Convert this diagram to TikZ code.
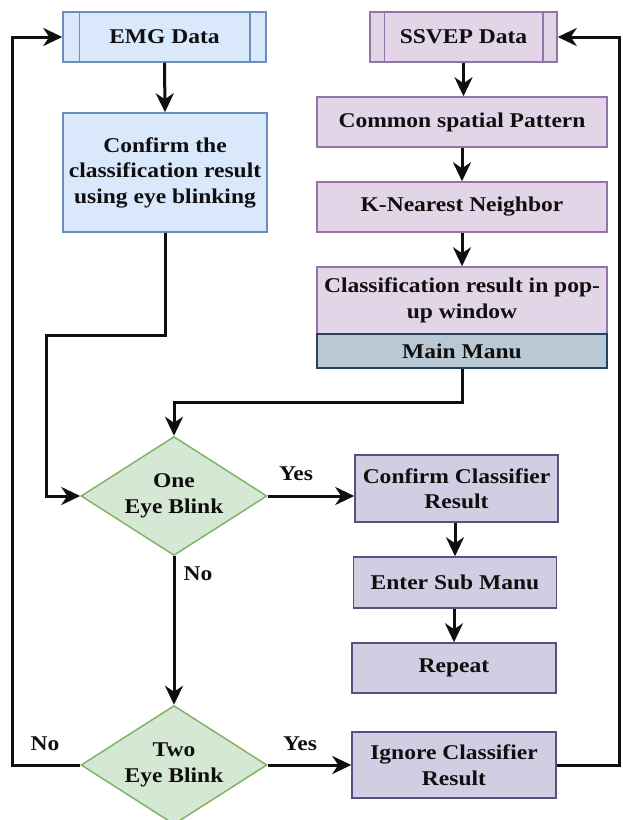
\documentclass[tikz,border=0pt]{standalone}
\usepackage{fontspec}
\setmainfont{Liberation Serif}[FakeStretch=1.12]
\usepackage{tikz}
\usetikzlibrary{arrows.meta,shapes.geometric}
\definecolor{emgfill}{RGB}{218,232,252}
\definecolor{emgdraw}{RGB}{108,142,191}
\definecolor{ssvfill}{RGB}{225,213,231}
\definecolor{ssvdraw}{RGB}{150,115,166}
\definecolor{menufill}{RGB}{186,200,211}
\definecolor{menudraw}{RGB}{35,68,93}
\definecolor{actfill}{RGB}{208,206,226}
\definecolor{actdraw}{RGB}{86,81,126}
\definecolor{decfill}{RGB}{213,232,212}
\definecolor{decdraw}{RGB}{130,179,102}
\definecolor{inkline}{RGB}{15,15,15}
\tikzset{
  fbox/.style   ={rectangle, line width=1.5pt, inner sep=2pt, align=center,
                  font=\fontsize{21}{25.5}\selectfont\bfseries, text=inkline},
  emgbox/.style ={fbox, draw=emgdraw,  fill=emgfill},
  ssvbox/.style ={fbox, draw=ssvdraw,  fill=ssvfill},
  menubox/.style={fbox, draw=menudraw, fill=menufill},
  actbox/.style ={fbox, draw=actdraw,  fill=actfill},
  decide/.style ={diamond, aspect=1.58, inner sep=0pt, minimum width=186pt,
                  minimum height=119pt, draw=decdraw, fill=decfill, line width=1.5pt,
                  align=center, font=\fontsize{21}{25.5}\selectfont\bfseries, text=inkline},
  flow/.style   ={-{Stealth[length=19pt, width=18pt, inset=6pt]}, line width=3pt, inkline},
  tag/.style    ={font=\fontsize{21}{24}\selectfont\bfseries, text=inkline, inner sep=0pt},
}

\begin{document}
\begin{tikzpicture}[x=1pt, y=-1pt]
  \useasboundingbox (0,0) rectangle (622,820);
  % left column
  \node[emgbox, minimum width=203pt, minimum height=50pt] (emg) at (164.5,37) {EMG Data};
  \node[emgbox, minimum width=204pt, minimum height=119pt] (conf) at (165,172.5)
       {Confirm the\\classification result\\using eye blinking};
  % right column
  \node[ssvbox, minimum width=187pt, minimum height=50pt] (ssvep) at (463.5,37) {SSVEP Data};
  \node[ssvbox, minimum width=290pt, minimum height=50pt] (csp) at (462,122) {Common spatial Pattern};
  \node[ssvbox, minimum width=290pt, minimum height=50pt] (knn) at (462,207) {K-Nearest Neighbor};
  \node[ssvbox, minimum width=290pt, minimum height=67pt] (popup) at (462,300.5)
       {Classification result in pop-\\up window};
  \node[menubox, minimum width=290pt, minimum height=34pt] (mainmenu) at (462,351) {Main Manu};
  % decisions
  \node[decide] (one) at (174,496) {One\\Eye Blink};
  \node[decide] (two) at (174,765) {Two\\Eye Blink};
  % actions
  \node[actbox, minimum width=203pt, minimum height=67pt] (ccr) at (456.5,488.5)
       {Confirm Classifier\\Result};
  \node[actbox, minimum width=203pt, minimum height=51pt] (esm) at (455,582.5) {Enter Sub Manu};
  \node[actbox, minimum width=204pt, minimum height=50pt] (rep) at (454,668) {Repeat};
  \node[actbox, minimum width=204pt, minimum height=66pt] (icr) at (454,765)
       {Ignore Classifier\\Result};

  % process bars
  \draw[emgdraw, line width=1.5pt] ([xshift=17pt]emg.north west) -- ([xshift=17pt]emg.south west)
                                   ([xshift=-17pt]emg.north east) -- ([xshift=-17pt]emg.south east);
  \draw[ssvdraw, line width=1.5pt] ([xshift=15pt]ssvep.north west) -- ([xshift=15pt]ssvep.south west)
                                   ([xshift=-15pt]ssvep.north east) -- ([xshift=-15pt]ssvep.south east);

  \coordinate (lj) at (46,335);
  \coordinate (lo) at (12,765);
  \coordinate (ro) at (619,765);

  \draw[flow] (emg.south) -- (conf.north);
  \draw[flow] (ssvep.south) -- (ssvep.south |- csp.north);
  \draw[flow] (csp) -- (knn);
  \draw[flow] (knn) -- (popup);
  \draw[flow] (mainmenu.south) -- ++(0,34) -| (one.north);
  \draw[flow] (conf.south) |- (lj) |- (one.west);
  \draw[flow] (one.east) -- (one.east -| ccr.west);
  \draw[flow] (ccr.south -| esm.north) -- (esm.north);
  \draw[flow] (esm.south -| rep.north) -- (rep.north);
  \draw[flow] (one.south) -- (two.north);
  \draw[flow] (two.east) -- (icr.west);
  \draw[flow] (two.west) -- (lo) |- (emg.west);
  \draw[flow] (icr.east) -- (ro) |- (ssvep.east);

  \node[tag] (yes1) at (296,474) {Yes};
  \node[tag] (no1)  at (198,574) {No};
  \node[tag] (no2)  at (45,744)  {No};
  \node[tag] (yes2) at (300,744) {Yes};
\end{tikzpicture}
\end{document}
